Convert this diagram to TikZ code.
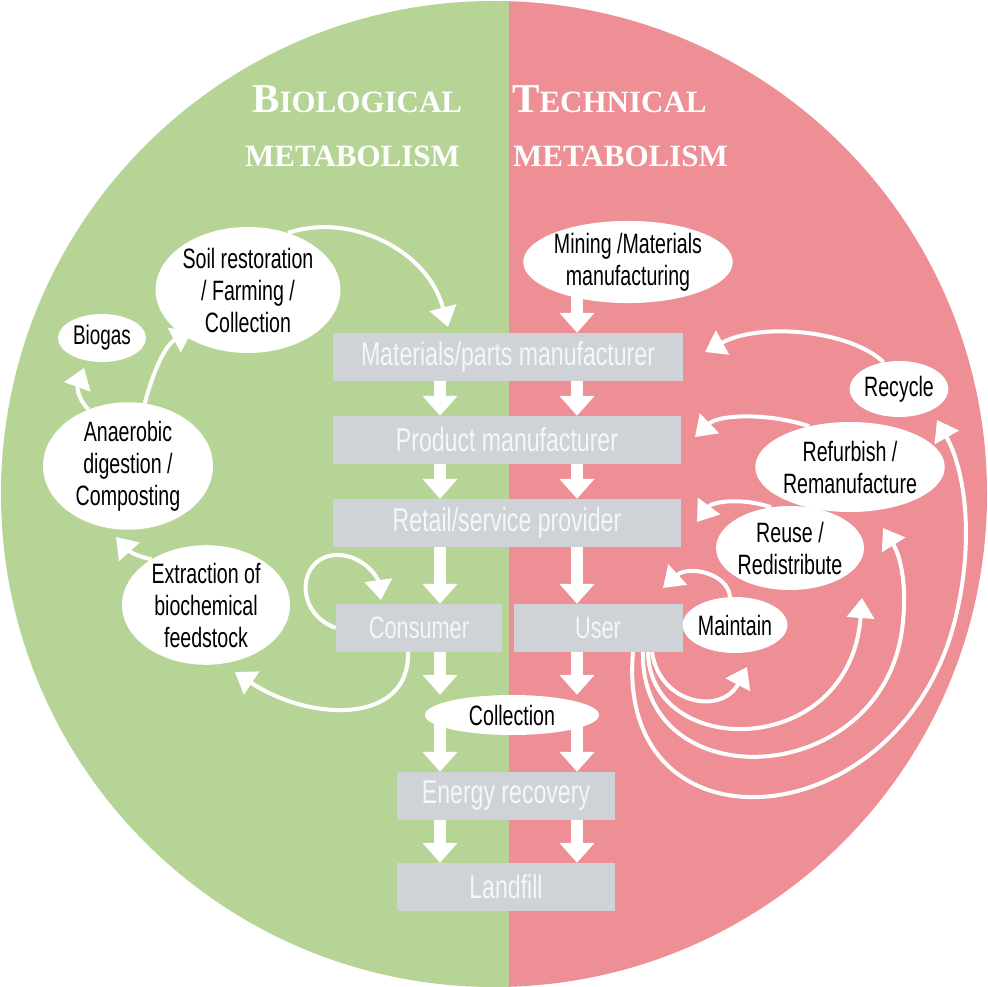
\documentclass[tikz,border=0pt]{standalone}
\usepackage{fontspec}
\newfontfamily\cond[FakeStretch=0.7]{Liberation Sans}
\newfontfamily\titlefont{Liberation Serif}
\usetikzlibrary{arrows.meta,shapes.geometric,backgrounds}
\definecolor{biogreen}{RGB}{181,212,150}
\definecolor{techpink}{RGB}{237,143,149}
\definecolor{boxgray}{RGB}{207,210,214}
\definecolor{boxtext}{RGB}{246,246,246}
\tikzset{
  stagebox/.style={fill=boxgray, text=boxtext, font=\cond\fontsize{33}{36}\selectfont, minimum height=48pt, inner sep=0pt},
  bubble/.style={ellipse, fill=white, inner sep=0pt, align=center, text=black, font=\cond\fontsize{28}{32}\selectfont},
  bigarr/.style={draw=white, line width=12pt, -{Triangle[width=34pt,length=20pt]}},
  curarr/.style={draw=white, line width=4pt, -{Triangle[width=27pt,length=20pt]}},
  titletext/.style={anchor=base west, inner sep=0pt, text=white, font=\titlefont\bfseries\fontsize{31}{31}\selectfont}
}
\begin{document}
\begin{tikzpicture}[x=1pt,y=-1pt]
\useasboundingbox (0,0) rectangle (988,987);
\begin{scope}[on background layer]
  \fill[white] (0,0) rectangle (988,987);
  \begin{scope}
    \clip (494,494) circle[radius=493];
    \fill[biogreen] (0,0) rectangle (509,987);
    \fill[techpink] (509,0) rectangle (988,987);
  \end{scope}
\end{scope}

% titles
\node[titletext] (tb1) at (252,113) {{\fontsize{41}{41}\selectfont B}IOLOGICAL};
\node[titletext] (tb2) at (245,167) {METABOLISM};
\node[titletext] (tt1) at (512,113) {{\fontsize{41}{41}\selectfont T}ECHNICAL};
\node[titletext] (tt2) at (513,167) {METABOLISM};

% stage boxes
\node[stagebox, minimum width=350pt] (mat) at (508,357) {Materials/parts manufacturer};
\node[stagebox, minimum width=348pt] (prod) at (507,440) {Product manufacturer};
\node[stagebox, minimum width=348pt] (ret) at (507,523) {Retail/service provider};
\node[stagebox, minimum width=166pt, font=\cond\fontsize{31}{34}\selectfont] (con) at (419,628) {Consumer};
\node[stagebox, minimum width=169pt, font=\cond\fontsize{31}{34}\selectfont] (user) at (598,628) {User};
\node[stagebox, minimum width=218pt] (en) at (506,796) {Energy recovery};
\node[stagebox, minimum width=218pt] (land) at (506,887) {Landfill};

% bubbles
\node[bubble, minimum width=194pt, minimum height=80pt] (mine) at (628,262) {Mining /Materials\\manufacturing};
\node[bubble, minimum width=160pt, minimum height=126pt] (soil) at (248,290) {Soil restoration\\/ Farming /\\Collection};
\node[bubble, minimum width=88pt, minimum height=48pt, font=\cond\fontsize{27}{30}\selectfont] (biogas) at (102,338) {Biogas};
\node[bubble, minimum width=170pt, minimum height=122pt] (ana) at (128,466) {Anaerobic\\digestion /\\Composting};
\node[bubble, minimum width=168pt, minimum height=116pt] (ext) at (206,605) {Extraction of\\biochemical\\feedstock};
\node[bubble, minimum width=88pt, minimum height=56pt] (rec) at (899,389) {Recycle};
\node[bubble, minimum width=166pt, minimum height=90pt] (ref) at (850,467) {Refurbish /\\Remanufacture};
\node[bubble, minimum width=144pt, minimum height=84pt] (reu) at (790,548) {Reuse /\\Redistribute};
\node[bubble, minimum width=90pt, minimum height=56pt] (mnt) at (735,625) {Maintain};
\node[bubble, minimum width=174pt, minimum height=40pt] (coll) at (512,715) {Collection};

% helper coordinates
\coordinate (cL) at (440,0);
\coordinate (cR) at (577,0);
\coordinate (tSoil) at (448,327);
\coordinate (tAS) at (192,331);
\coordinate (tAB) at (84,368);
\coordinate (tEA) at (116,537);
\coordinate (tCL) at (381,600);
\coordinate (tCE) at (235,672);
\coordinate (tRM) at (705,352);
\coordinate (tRP) at (695,437);
\coordinate (tRR) at (697,522);
\coordinate (tMU) at (663,588);
\coordinate (tL1) at (747,667);
\coordinate (tL2) at (862,598);
\coordinate (tL3) at (883,528);
\coordinate (tL4) at (937,420);

\begin{scope}[on background layer]
  % straight flow arrows
  \draw[bigarr] (mine.center -| cR) -- (mat.north -| cR);
  \draw[bigarr] (mat.south -| cL) -- (prod.north -| cL);
  \draw[bigarr] (mat.south -| cR) -- (prod.north -| cR);
  \draw[bigarr] (prod.south -| cL) -- (ret.north -| cL);
  \draw[bigarr] (prod.south -| cR) -- (ret.north -| cR);
  \draw[bigarr] (ret.south -| cL) -- (con.north -| cL);
  \draw[bigarr] (ret.south -| cR) -- (user.north -| cR);
  \draw[bigarr] (con.south -| cL) -- (coll.north -| cL);
  \draw[bigarr] (user.south -| cR) -- (coll.north -| cR);
  \draw[bigarr] (coll.center -| cL) -- (en.north -| cL);
  \draw[bigarr] (coll.center -| cR) -- (en.north -| cR);
  \draw[bigarr] (en.south -| cL) -- (land.north -| cL);
  \draw[bigarr] (en.south -| cR) -- (land.north -| cR);

  % biological loops
  \draw[curarr] (soil.55) .. controls (350,212) and (428,250) .. (tSoil);
  \draw[curarr] (ana.75) .. controls (153,372) and (165,345) .. (tAS);
  \draw[curarr] (ana.125) .. controls (75,395) and (78,385) .. (tAB);
  \draw[curarr] (ext.140) .. controls (130,555) and (125,547) .. (tEA);
  \draw[curarr] (con.west) .. controls (292,612) and (298,553) .. (340,555) .. controls (365,557) and (378,578) .. (tCL);
  \draw[curarr] ([xshift=-11pt]con.south) .. controls (410,725) and (310,722) .. (tCE);

  % technical loops
  \draw[curarr] (rec.120) .. controls (850,330) and (760,322) .. (tRM);
  \draw[curarr] (ref.135) .. controls (765,412) and (718,415) .. (tRP);
  \draw[curarr] (reu.115) .. controls (740,497) and (712,502) .. (tRR);
  \draw[curarr] (mnt.100) .. controls (728,573) and (688,565) .. (tMU);
  \draw[curarr] ([xshift=54pt]user.south) .. controls (660,705) and (722,715) .. (tL1);
  \draw[curarr] ([xshift=50pt]user.south) .. controls (650,760) and (850,760) .. (tL2);
  \draw[curarr] ([xshift=45pt]user.south) .. controls (640,800) and (880,790) .. (902,630) .. controls (908,585) and (900,555) .. (tL3);
  \draw[curarr] ([xshift=35pt]user.south) .. controls (615,860) and (900,840) .. (955,620) .. controls (975,540) and (965,470) .. (tL4);
\end{scope}
\end{tikzpicture}
\end{document}
